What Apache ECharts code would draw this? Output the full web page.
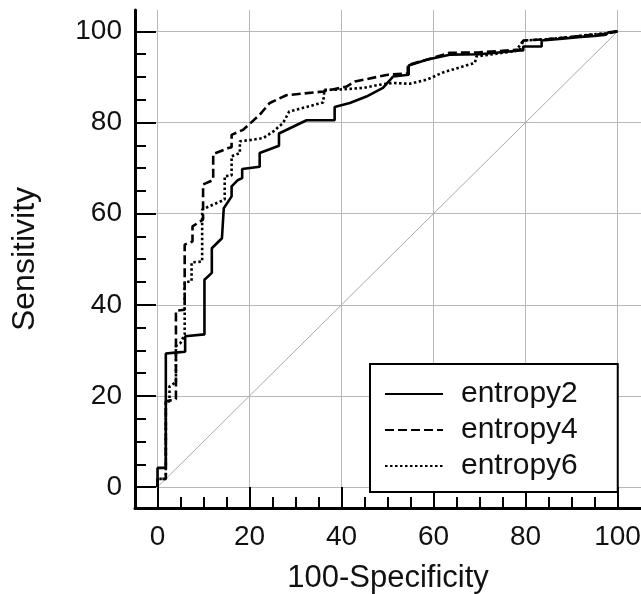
<!DOCTYPE html>
<html>
<head>
<meta charset="utf-8">
<script src="https://cdn.jsdelivr.net/npm/echarts@6/dist/echarts.min.js"></script>
<style>html,body{margin:0;padding:0;background:#fff;}#c{width:641px;height:594px;}</style>
</head>
<body>
<div id="c"></div>
<script>
// ---- data ----
const seriesNames = ['entropy2', 'entropy4', 'entropy6'];
const majorTicks = [0, 20, 40, 60, 80, 100];
const minorTicks = [5, 10, 15, 25, 30, 35, 45, 50, 55, 65, 70, 75, 85, 90, 95];
const diagonal = [[0, 0], [100, 100]];
const entropy2 = [[0,0],[0,4.2],[1.8,4.2],[1.8,29.3],[3.8,29.5],[6,29.7],[6,33.1],[10.2,33.5],[10.2,45.5],[11.8,47],[11.8,52.4],[14,54.6],[14.4,54.6],[14.4,61.2],[16.1,63.8],[16.1,66],[17.5,67.4],[18.4,67.8],[18.4,69.8],[22.2,70.3],[22.2,73.3],[26.4,74.9],[26.4,77.6],[32.4,80.5],[38.5,80.5],[38.5,83.4],[41.8,84.3],[45.4,85.7],[49,87.6],[51.2,90.1],[54.6,90.5],[54.6,92.5],[58.5,93.8],[63.5,94.9],[70,95],[78.8,95.8],[79.5,95.8],[79.5,96.7],[83.5,96.7],[83.5,98],[88,98.4],[92,98.8],[95,99],[97.5,99.3],[98,99.8],[100,100]];
const entropy4 = [[0,0],[0,1.8],[1.8,1.8],[1.8,18.8],[4,19.3],[4,38.7],[5.9,38.9],[5.9,53.2],[7.6,53.9],[7.6,57.2],[9.9,58.7],[9.9,66.4],[12.1,67.4],[12.1,73.1],[15.4,74.4],[16.1,74.6],[16.1,77.3],[18.6,78.4],[22.2,81.7],[24.4,84.3],[28,86],[36,86.8],[41.1,87.9],[42.9,89],[50.1,90.5],[54.4,90.8],[54.4,92.6],[58.5,93.8],[63.5,95.3],[70,95.4],[78.8,96],[79.5,98],[85,98.3],[90,98.8],[94,99.2],[97.6,99.5],[99.4,99.9],[100,100]];
const entropy6 = [[0,0],[0,1.8],[1.8,1.8],[1.8,18.5],[2.6,18.8],[2.6,22.1],[4,23],[4,31],[5,31.6],[5.9,33.5],[5.9,44.9],[7.4,45.2],[7.4,49.3],[9.7,49.5],[9.7,60.9],[12.1,62],[14.6,63.1],[14.6,68.2],[16.1,68.4],[16.1,72.6],[17.9,73.3],[17.9,75.9],[20.4,76.2],[23,76.6],[25.1,78],[27.3,79.9],[28.6,82.4],[36,84.4],[36.3,87.2],[38.9,87.2],[44.7,87.6],[48.3,88.3],[51.2,88.7],[54.8,88.5],[58.5,89.4],[62.1,91],[66,92.2],[69,93.1],[69.3,94.5],[77.9,95.7],[79.5,98],[85,98.3],[90,98.8],[94,99.3],[97.6,99.6],[100,100]];

// ---- chart ----
const FONT = '"Liberation Sans", Arial, sans-serif';
const X_MIN = -4.9, X_MAX = 105.1, Y_MIN = -4.6, Y_MAX = 104.7;
const tickLine = { color: '#000', width: 2 };

function majorAxis(min, max, isX) {
  return {
    type: 'value', min: min, max: max,
    position: isX ? 'bottom' : 'left',
    axisLine: { show: true, onZero: false, lineStyle: { color: '#000', width: 3 } },
    axisTick: { show: true, inside: true, length: 21, lineStyle: tickLine, customValues: majorTicks },
    axisLabel: { show: true, customValues: majorTicks, fontSize: 28, color: '#111', fontFamily: FONT, margin: isX ? 15 : 13 },
    splitLine: { show: true, lineStyle: { color: '#b8b8b8', width: 1 } },
    name: isX ? '100-Specificity' : 'Sensitivity',
    nameLocation: 'middle',
    nameGap: isX ? 55 : 94,
    nameTextStyle: { fontSize: isX ? 31 : 32, color: '#111', fontFamily: FONT }
  };
}
function minorAxis(min, max, isX) {
  return {
    type: 'value', min: min, max: max,
    position: isX ? 'bottom' : 'left',
    axisLine: { show: false, onZero: false },
    axisTick: { show: true, inside: true, length: 11, lineStyle: tickLine, customValues: minorTicks },
    axisLabel: { show: false },
    splitLine: { show: false }
  };
}

const lineTypes = ['solid', [9, 4], [2.5, 2.5]];
const seriesData = [entropy2, entropy4, entropy6];

const series = [{
  name: 'ref', type: 'line', data: diagonal, symbol: 'none', silent: true,
  lineStyle: { color: '#aaaaaa', width: 1 }, z: 1
}];
seriesNames.forEach((n, i) => {
  series.push({
    name: n, type: 'line', data: seriesData[i], symbol: 'none', showSymbol: false,
    lineStyle: { color: '#000', width: 2.6, type: lineTypes[i], cap: 'butt' },
    itemStyle: { color: '#000' }, z: 3
  });
});

const chart = echarts.init(document.getElementById('c'), null, { renderer: 'canvas' });
chart.setOption({
  animation: false,
  backgroundColor: '#fff',
  grid: { left: 135, top: 10, width: 506, height: 498, containLabel: false, outerBoundsMode: 'none' },
  xAxis: [majorAxis(X_MIN, X_MAX, true), minorAxis(X_MIN, X_MAX, true)],
  yAxis: [majorAxis(Y_MIN, Y_MAX, false), minorAxis(Y_MIN, Y_MAX, false)],
  legend: {
    data: seriesNames,
    orient: 'vertical',
    left: 370, top: 364,
    itemWidth: 58, itemHeight: 14, itemGap: 6,
    padding: [15, 40, 11, 14],
    backgroundColor: '#fff',
    borderColor: '#000', borderWidth: 2, borderRadius: 0,
    itemStyle: { opacity: 0, color: 'rgba(0,0,0,0)', borderWidth: 0 },
    textStyle: { fontSize: 30, color: '#111', fontFamily: FONT, lineHeight: 28, padding: [0, 0, 0, 13] },
    selectedMode: false
  },
  series: series
});
</script>
</body>
</html>
